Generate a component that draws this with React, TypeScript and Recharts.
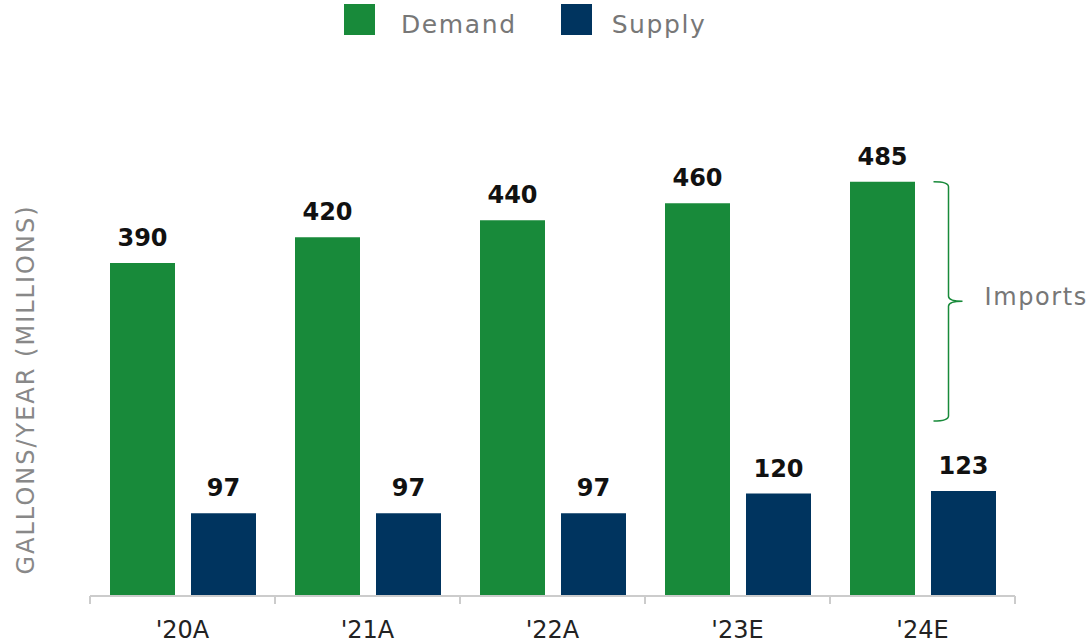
import React from 'react';
import { BarChart, Bar, XAxis, YAxis, Legend, LabelList, ReferenceLine } from 'recharts';

const years = ["'20A", "'21A", "'22A", "'23E", "'24E"];
const demand = [390, 420, 440, 460, 485];
const supply = [97, 97, 97, 120, 123];
const importsRange = [485, 205];

const GREEN = '#188a3a';
const NAVY = '#00345f';
const FONT = '"DejaVu Sans", sans-serif';
const TICK_SIZE = 8;
const TICK_MARGIN = 17;

const data = years.map((year, i) => ({ year, demand: demand[i], supply: supply[i] }));

const LegendContent = () => (
  <div style={{ display: 'flex', alignItems: 'center', paddingLeft: 344, fontFamily: FONT }}>
    <div style={{ width: 31, height: 31, background: GREEN }} />
    <span style={{ marginLeft: 26, fontSize: 25, color: '#777', letterSpacing: 1.6, position: 'relative', top: 5 }}>Demand</span>
    <div style={{ width: 31, height: 31, background: NAVY, marginLeft: 44 }} />
    <span style={{ marginLeft: 20, fontSize: 25, color: '#777', letterSpacing: 1.6, position: 'relative', top: 5 }}>Supply</span>
  </div>
);

// tick label plus tick marks on the category boundaries
const BoundaryTick = (props: any) => {
  const { x, y, payload, index, visibleTicksCount } = props;
  const half = payload && payload.offset ? payload.offset : 92.5;
  const top = y - TICK_MARGIN - TICK_SIZE;
  return (
    <g>
      <line x1={x - half} x2={x - half} y1={top} y2={top + TICK_SIZE} stroke="#cccccc" strokeWidth={2} />
      {index === visibleTicksCount - 1 && (
        <line x1={x + half} x2={x + half} y1={top} y2={top + TICK_SIZE} stroke="#cccccc" strokeWidth={2} />
      )}
      <text x={x} y={y} dy="0.71em" textAnchor="middle" fill="#222" fontSize={24} fontFamily={FONT}>
        {payload.value}
      </text>
    </g>
  );
};

// curly brace next to the last demand bar, with the "Imports" note
const Brace = (props: any) => {
  const { x1, y1, y2 } = props;
  const x = x1 + 26;
  const top = Math.min(y1, y2);
  const bot = Math.max(y1, y2);
  const mid = (top + bot) / 2;
  const d = `M ${x - 15} ${top} Q ${x} ${top} ${x} ${top + 5} L ${x} ${mid - 5} Q ${x} ${mid} ${x + 14} ${mid}` +
    ` Q ${x} ${mid} ${x} ${mid + 5} L ${x} ${bot - 5} Q ${x} ${bot} ${x - 15} ${bot}`;
  return (
    <g>
      <path d={d} fill="none" stroke={GREEN} strokeWidth={1.5} />
      <text x={x + 36} y={mid - 5} dy="0.35em" fontSize={24} fill="#777" letterSpacing={1.6} fontFamily={FONT}>Imports</text>
    </g>
  );
};

export default function App() {
  return (
    <div style={{ position: 'absolute', left: 0, top: 0 }}>
      <BarChart
        width={1091}
        height={643}
        data={data}
        margin={{ top: 129, right: 76, bottom: 0, left: 0 }}
        barSize={65}
        barGap={16}
      >
        <Legend
          verticalAlign="top"
          content={<LegendContent />}
          wrapperStyle={{ top: 4, left: 0, width: 1091, height: 40 }}
        />
        <XAxis
          dataKey="year"
          height={47}
          axisLine={{ stroke: '#cccccc', strokeWidth: 2 }}
          tickLine={{ stroke: 'transparent' }}
          tickSize={TICK_SIZE}
          tickMargin={TICK_MARGIN}
          tick={<BoundaryTick />}
          interval={0}
        />
        <YAxis
          width={90}
          domain={[0, 500]}
          axisLine={false}
          tickLine={false}
          tick={false}
          label={{
            value: 'GALLONS/YEAR (MILLIONS)',
            angle: -90,
            position: 'insideLeft',
            offset: 25,
            dy: 7,
            style: { textAnchor: 'middle', fill: '#888', fontSize: 24, letterSpacing: 2, fontFamily: FONT },
          }}
        />
        <Bar dataKey="demand" name="Demand" fill={GREEN} isAnimationActive={false}>
          <LabelList dataKey="demand" position="top" offset={17} fill="#111" fontSize={24} fontWeight="bold" fontFamily={FONT} />
        </Bar>
        <Bar dataKey="supply" name="Supply" fill={NAVY} isAnimationActive={false}>
          <LabelList dataKey="supply" position="top" offset={17} fill="#111" fontSize={24} fontWeight="bold" fontFamily={FONT} />
        </Bar>
        <ReferenceLine
          segment={[{ x: years[4], y: importsRange[0] }, { x: years[4], y: importsRange[1] }]}
          shape={<Brace />}
          ifOverflow="visible"
        />
      </BarChart>
    </div>
  );
}
